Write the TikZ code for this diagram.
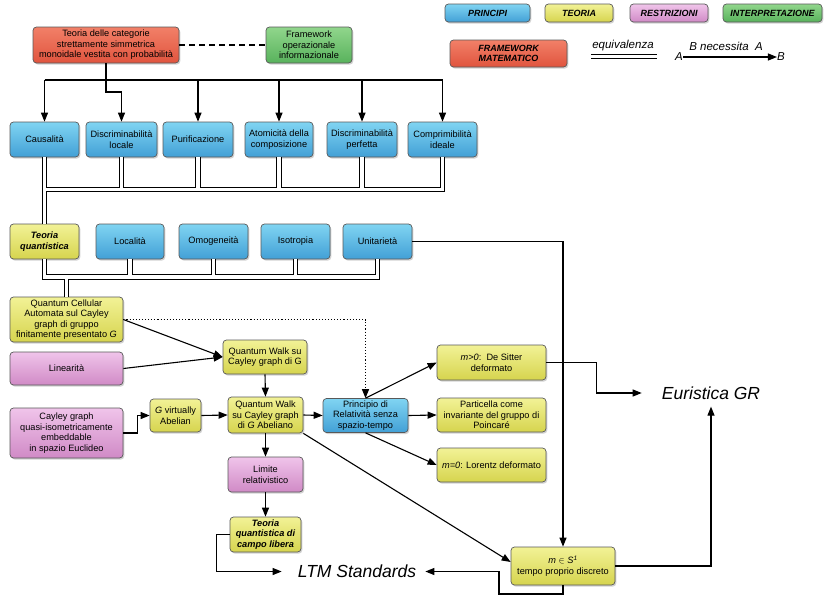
\documentclass[tikz,border=0pt]{standalone}
\usepackage{fontspec}
\setmainfont{Liberation Sans}
\usetikzlibrary{arrows.meta,shadows}
\definecolor{blueT}{RGB}{128,212,242}
\definecolor{blueB}{RGB}{66,160,214}
\definecolor{yelT}{RGB}{242,242,150}
\definecolor{yelB}{RGB}{214,212,78}
\definecolor{pinkT}{RGB}{240,196,234}
\definecolor{pinkB}{RGB}{208,138,198}
\definecolor{greenT}{RGB}{145,214,140}
\definecolor{greenB}{RGB}{88,178,92}
\definecolor{redT}{RGB}{242,128,104}
\definecolor{redB}{RGB}{224,84,62}
\begin{document}
\begin{tikzpicture}[x=1pt,y=-1pt,
  box/.style={rectangle, rounded corners=3.5pt, draw=black!65, line width=0.7pt,
    align=center, inner sep=1pt, font=\fontsize{9.2}{10.5}\selectfont,
    drop shadow={shadow xshift=1.3pt,shadow yshift=-1.6pt,opacity=0.35}},
  bbox/.style={box, top color=blueT, bottom color=blueB},
  ybox/.style={box, top color=yelT, bottom color=yelB},
  pbox/.style={box, top color=pinkT, bottom color=pinkB},
  gbox/.style={box, top color=greenT, bottom color=greenB},
  rbox/.style={box, top color=redT, bottom color=redB},
  lgd/.style={font=\fontsize{9}{10.5}\selectfont\bfseries\itshape},
  bi/.style={font=\fontsize{9.2}{10.5}\selectfont\bfseries\itshape},
  ital/.style={font=\fontsize{11.5}{13}\selectfont\itshape, inner sep=0pt},
  big/.style={font=\fontsize{17.5}{20}\selectfont\itshape, inner sep=0pt},
  ln/.style={line width=1.1pt},
  arr/.style={line width=1.1pt, -{Triangle[length=9pt,width=7pt]}},
  eqv/.style={line width=1.3pt, double=white, double distance=3.2pt}]
\useasboundingbox (0,0) rectangle (825,595);
\fill[white] (0,0) rectangle (825,595);

% legend
\node[bbox,lgd,minimum width=85pt,minimum height=18pt] (lp) at (487.5,13) {PRINCIPI};
\node[ybox,lgd,minimum width=68pt,minimum height=18pt] (lt) at (579,13) {TEORIA};
\node[pbox,lgd,minimum width=78pt,minimum height=18pt] (lr) at (669,13) {RESTRIZIONI};
\node[gbox,lgd,minimum width=99pt,minimum height=18pt] (li) at (772.5,13) {INTERPRETAZIONE};
\node[rbox,lgd,minimum width=117pt,minimum height=27pt] (lfm) at (508.5,53.5) {FRAMEWORK\\MATEMATICO};
\node[ital] (leq) at (623,46) {equivalenza};
\coordinate (eqL) at (591,56.5);
\coordinate (eqR) at (657,56.5);
\draw[eqv] (eqL) -- (eqR);
\node[ital] (la) at (679,57) {A};
\node[ital] (lb) at (781,57) {B};
\draw[arr] (la) -- (lb);
\node[ital] (lnec) at (726,46) {B necessita\ \ A};

% top
\node[rbox,minimum width=146pt,minimum height=36pt] (red) at (106,45) {Teoria delle categorie\\strettamente simmetrica\\monoidale vestita con probabilità};
\node[gbox,minimum width=86pt,minimum height=36pt] (green) at (309,45) {Framework\\operazionale\\informazionale};
\draw[line width=1.5pt, dash pattern=on 6pt off 4pt] (red.east) -- (green.west);

% principles
\node[bbox,minimum width=69pt,minimum height=35pt] (caus) at (44.5,139.5) {Causalità};
\node[bbox,minimum width=71pt,minimum height=35pt] (dl) at (121.5,139.5) {Discriminabilità\\locale};
\node[bbox,minimum width=70pt,minimum height=35pt] (pur) at (198,139.5) {Purificazione};
\node[bbox,minimum width=68pt,minimum height=35pt] (atom) at (279,139.5) {Atomicità della\\composizione};
\node[bbox,minimum width=70pt,minimum height=35pt] (dp) at (362,139.5) {Discriminabilità\\perfetta};
\node[bbox,minimum width=69pt,minimum height=35pt] (compr) at (442.5,139.5) {Comprimibilità\\ideale};

\coordinate (bus) at (0,80);
\coordinate (s1) at (0,92);
\draw[ln] (caus.north |- bus) -- (compr.north |- bus);
\draw[arr] (caus.north |- bus) -- (caus.north);
\draw[arr] (pur.north |- bus) -- (pur.north);
\draw[arr] (atom.north |- bus) -- (atom.north);
\draw[arr] (dp.north |- bus) -- (dp.north);
\draw[arr] (compr.north |- bus) -- (compr.north);
\draw[arr] (red.south) -- (red.south |- s1) -| (dl.north);

% second row
\node[ybox,bi,minimum width=69pt,minimum height=35pt] (tq) at (44.5,241.5) {Teoria\\quantistica};
\node[bbox,minimum width=68pt,minimum height=35pt] (loc) at (130,241.5) {Località};
\node[bbox,minimum width=69pt,minimum height=35pt] (omo) at (213.5,241.5) {Omogeneità};
\node[bbox,minimum width=69pt,minimum height=35pt] (iso) at (295.5,241.5) {Isotropia};
\node[bbox,minimum width=69pt,minimum height=35pt] (unit) at (377.5,241.5) {Unitarietà};

\coordinate (h1) at (0,189.5);
\coordinate (h2) at (0,277);

% lower part
\node[ybox,minimum width=113pt,minimum height=45pt] (qca) at (66.5,319.5) {Quantum Cellular\\Automata sul Cayley\\graph di gruppo\\finitamente presentato \textit{G}};
\node[pbox,minimum width=113pt,minimum height=33pt] (lin) at (66.5,368.5) {Linearità};
\node[ybox,minimum width=84pt,minimum height=34pt] (qw) at (265,357) {Quantum Walk su\\Cayley graph di G};
\node[pbox,minimum width=113pt,minimum height=50pt] (cay) at (66.5,433) {Cayley graph\\quasi-isometricamente\\embeddable\\in spazio Euclideo};
\node[ybox,minimum width=51pt,minimum height=33pt] (gv) at (175.5,415.5) {\textit{G} virtually\\Abelian};
\node[ybox,minimum width=75pt,minimum height=36pt] (qwa) at (265.5,415) {Quantum Walk\\su Cayley graph\\di \textit{G} Abeliano};
\node[bbox,minimum width=85pt,minimum height=34pt] (prin) at (365.5,415.5) {Principio di\\Relatività senza\\spazio-tempo};
\node[ybox,minimum width=109pt,minimum height=35pt] (ds) at (491.5,362.5) {\textit{m>0}:\ \ De Sitter\\deformato};
\node[ybox,minimum width=109pt,minimum height=34pt] (part) at (491.5,415) {Particella come\\invariante del gruppo di\\Poincaré};
\node[ybox,minimum width=109pt,minimum height=34pt] (mz) at (491.5,465) {\textit{m=0}: Lorentz deformato};
\node[pbox,minimum width=75pt,minimum height=35pt] (lim) at (265.5,474.5) {Limite\\relativistico};
\node[ybox,bi,minimum width=71pt,minimum height=35pt] (tqcl) at (265.5,534.5) {Teoria\\quantistica di\\campo libera};
\node[ybox,minimum width=104pt,minimum height=38pt] (ms) at (563,566) {\textit{m} $\in$ \textit{S}\textsuperscript{\textit{1}}\\tempo proprio discreto};
\node[big] (eur) at (711,393) {Euristica GR};
\node[big] (ltm) at (357,571.5) {LTM Standards};

% equivalence trees
\draw[eqv] (caus.south) -- (tq.north)
  (caus.south |- h1) -- (compr.south |- h1) -- (compr.south)
  (dl.south) -- (dl.south |- h1)
  (pur.south) -- (pur.south |- h1)
  (atom.south) -- (atom.south |- h1)
  (dp.south) -- (dp.south |- h1);
\draw[eqv] (tq.south) -- (tq.south |- h2) -- (unit.south |- h2) -- (unit.south)
  (loc.south) -- (loc.south |- h2)
  (omo.south) -- (omo.south |- h2)
  (iso.south) -- (iso.south |- h2)
  (qca.north) -- (qca.north |- h2);

% connectors
\draw[arr] (unit.east) -| (ms.north);
\draw[arr, dotted, line width=1.2pt] (qca.east) -| (prin.north);
\draw[arr] (qca.east) -- (qw.west);
\draw[arr] (lin.east) -- (qw.west);
\draw[arr] (qw.south) -- (qwa.north);
\draw[arr] (cay.east) -- ++(14,0) |- (gv.west);
\draw[arr] (gv.east) -- (qwa.west);
\draw[arr] (qwa.east) -- (prin.west);
\draw[arr] (prin.north) -- (ds.west);
\draw[arr] (prin.east) -- (part.west);
\draw[arr] (prin.south) -- (mz.west);
\draw[arr] (qwa.south) -- (lim.north);
\draw[arr] (lim.south) -- (tqcl.north);
\draw[arr] (qwa.south east) -- ([yshift=4pt]ms.west);
\draw[arr, shorten >=20pt] (ds.east) -- ++(50,0) |- (eur.west);
\draw[arr, shorten >=7pt] (ms.east) -| (eur.south);
\draw[arr, shorten >=16pt] (tqcl.west) -- ++(-13,0) |- (ltm.west);
\coordinate (c1) at (499,594);
\draw[arr, shorten >=9pt] (ms.south) |- (c1) |- (ltm.east);
\end{tikzpicture}
\end{document}
